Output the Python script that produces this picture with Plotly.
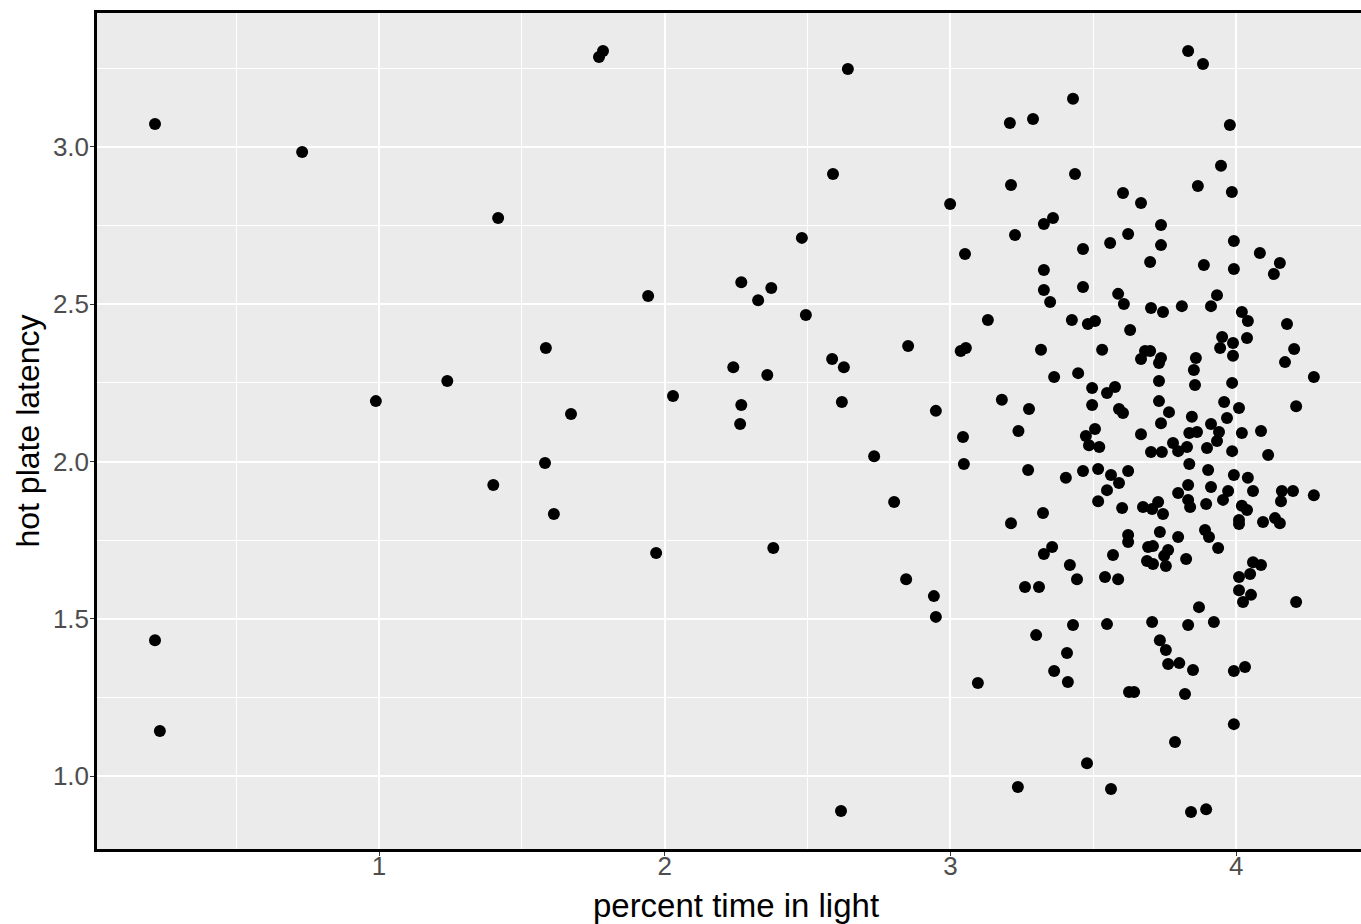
import plotly.graph_objects as go

percent_light = [
    0.216, 0.216, 0.233, 0.731, 0.989, 1.239, 1.417, 1.400, 1.584, 1.581,
    1.612, 1.672, 1.770, 1.784, 1.942, 1.970, 2.029, 2.240, 2.268, 2.268,
    2.264, 2.327, 2.373, 2.359, 2.380, 2.480, 2.494, 2.589, 2.586, 2.627,
    2.620, 2.641, 2.617, 2.733, 2.803, 2.852, 2.845, 2.942, 2.949, 2.949,
    3.429, 3.208, 3.289, 3.212, 3.436, 2.999, 3.604, 3.359, 3.327, 3.832,
    3.884, 3.978, 3.947, 3.866, 3.985, 3.667, 3.737, 3.226, 3.051, 3.327,
    3.464, 3.559, 3.622, 3.327, 3.349, 3.464, 3.587, 3.607, 3.131, 3.425,
    3.481, 3.506, 3.629, 3.036, 3.054, 3.317, 3.531, 3.363, 3.447, 3.496,
    3.576, 3.548, 3.180, 3.275, 3.496, 3.590, 3.604, 3.737, 3.699, 3.887,
    3.992, 3.992, 4.083, 4.153, 4.132, 3.702, 3.744, 3.810, 3.933, 3.912,
    4.020, 4.041, 4.178, 3.951, 3.989, 3.944, 4.038, 4.203, 4.171, 3.989,
    3.681, 3.699, 3.667, 3.737, 3.730, 3.859, 3.852, 3.856, 3.730, 3.986,
    3.730, 3.765, 3.958, 4.010, 4.210, 3.845, 3.968, 4.272, 3.044, 3.238,
    3.474, 3.506, 3.485, 3.521, 3.047, 3.272, 3.404, 3.464, 3.517, 3.562,
    3.590, 3.622, 3.548, 3.517, 3.601, 3.324, 3.212, 3.622, 3.622, 3.356,
    3.327, 3.569, 3.418, 3.443, 3.541, 3.587, 3.261, 3.310, 3.737, 3.912,
    3.667, 3.836, 3.863, 3.940, 3.933, 4.020, 4.087, 3.779, 3.828, 3.797,
    3.702, 3.740, 3.898, 3.986, 4.112, 3.836, 3.902, 3.992, 4.041, 3.832,
    3.912, 3.797, 3.972, 3.954, 4.059, 4.160, 4.199, 4.157, 4.272, 3.832,
    3.839, 3.895, 4.020, 4.038, 3.674, 3.706, 3.727, 3.744, 4.010, 4.010,
    4.094, 4.136, 4.153, 3.733, 3.797, 3.891, 3.905, 3.937, 3.692, 3.709,
    3.762, 3.748, 3.688, 3.709, 3.754, 3.825, 4.059, 4.087, 4.049, 4.010,
    4.010, 4.052, 4.024, 4.210, 3.870, 3.429, 3.548, 3.300, 3.408, 3.363,
    3.411, 3.096, 3.478, 3.236, 3.562, 3.706, 3.832, 3.922, 3.733, 3.754,
    3.762, 3.801, 3.849, 3.992, 4.031, 3.625, 3.643, 3.821, 3.992, 3.786,
    3.842, 3.895,
]

hot_plate_latency = [
    3.073, 1.432, 1.143, 2.984, 2.192, 2.256, 2.774, 1.925, 2.361, 1.995,
    1.833, 2.151, 3.286, 3.305, 2.526, 1.709, 2.208, 2.300, 2.570, 2.180,
    2.119, 2.513, 2.552, 2.275, 1.725, 2.711, 2.466, 2.914, 2.326, 2.300,
    2.189, 3.248, 0.889, 2.017, 1.871, 2.367, 1.626, 1.572, 1.506, 2.161,
    3.153, 3.076, 3.089, 2.879, 2.914, 2.819, 2.854, 2.774, 2.755, 3.305,
    3.264, 3.070, 2.940, 2.876, 2.857, 2.822, 2.752, 2.720, 2.660, 2.609,
    2.676, 2.695, 2.723, 2.545, 2.507, 2.555, 2.533, 2.501, 2.450, 2.450,
    2.437, 2.447, 2.418, 2.351, 2.361, 2.355, 2.355, 2.269, 2.281, 2.234,
    2.237, 2.218, 2.196, 2.167, 2.180, 2.167, 2.154, 2.688, 2.634, 2.625,
    2.701, 2.612, 2.663, 2.631, 2.596, 2.488, 2.475, 2.494, 2.529, 2.494,
    2.475, 2.447, 2.437, 2.396, 2.377, 2.361, 2.393, 2.358, 2.316, 2.336,
    2.351, 2.351, 2.326, 2.329, 2.313, 2.329, 2.291, 2.243, 2.256, 2.250,
    2.192, 2.157, 2.189, 2.170, 2.176, 2.142, 2.138, 2.269, 2.078, 2.097,
    2.081, 2.103, 2.052, 2.046, 1.992, 1.973, 1.948, 1.970, 1.976, 1.957,
    1.932, 1.970, 1.909, 1.874, 1.852, 1.836, 1.804, 1.766, 1.744, 1.728,
    1.706, 1.703, 1.671, 1.626, 1.633, 1.626, 1.601, 1.601, 2.122, 2.119,
    2.087, 2.091, 2.094, 2.094, 2.065, 2.091, 2.097, 2.059, 2.046, 2.033,
    2.030, 2.030, 2.043, 2.033, 2.021, 1.992, 1.973, 1.957, 1.948, 1.925,
    1.919, 1.900, 1.906, 1.878, 1.906, 1.906, 1.906, 1.874, 1.893, 1.878,
    1.855, 1.865, 1.859, 1.846, 1.855, 1.849, 1.871, 1.833, 1.814, 1.801,
    1.808, 1.820, 1.804, 1.776, 1.760, 1.782, 1.760, 1.725, 1.728, 1.731,
    1.719, 1.700, 1.684, 1.674, 1.668, 1.690, 1.680, 1.671, 1.642, 1.633,
    1.591, 1.576, 1.553, 1.553, 1.537, 1.480, 1.483, 1.448, 1.391, 1.334,
    1.299, 1.296, 1.041, 0.965, 0.959, 1.490, 1.480, 1.490, 1.432, 1.401,
    1.356, 1.359, 1.337, 1.334, 1.347, 1.267, 1.267, 1.261, 1.165, 1.108,
    0.886, 0.894,
]

x_ticks = [1, 2, 3, 4]
x_tick_labels = ["1", "2", "3", "4"]
y_ticks = [1.0, 1.5, 2.0, 2.5, 3.0]
y_tick_labels = ["1.0", "1.5", "2.0", "2.5", "3.0"]

fig = go.Figure(go.Scatter(
    x=percent_light, y=hot_plate_latency, mode="markers",
    marker=dict(color="black", size=12, line=dict(width=0)),
    showlegend=False, cliponaxis=False,
))

font_family = "Liberation Sans, Arial, sans-serif"
fig.update_layout(
    width=1375, height=924,
    margin=dict(l=97, r=0, t=13, b=75),
    paper_bgcolor="white", plot_bgcolor="#EBEBEB",
    font=dict(family=font_family, color="black"),
    xaxis=dict(
        range=[0.013, 4.486], tickvals=x_ticks, ticktext=x_tick_labels,
        showgrid=True, gridcolor="white", gridwidth=2,
        minor=dict(dtick=0.5, tick0=0.5, showgrid=True, gridcolor="white", gridwidth=1, ticks=""),
        zeroline=False, showline=True, linecolor="black", linewidth=2.5, mirror=True,
        ticks="outside", ticklen=4, tickcolor="#333333", tickwidth=1,
        ticklabelstandoff=-12,
        tickfont=dict(size=26, color="#4D4D4D", family=font_family),
        title=dict(text="percent time in light", font=dict(size=33, color="black"), standoff=16),
    ),
    yaxis=dict(
        range=[0.768, 3.426], tickvals=y_ticks, ticktext=y_tick_labels,
        showgrid=True, gridcolor="white", gridwidth=2,
        minor=dict(dtick=0.5, tick0=0.75, showgrid=True, gridcolor="white", gridwidth=1, ticks=""),
        zeroline=False, showline=True, linecolor="black", linewidth=2.5,
        ticks="outside", ticklen=4, tickcolor="#333333", tickwidth=1,
        ticklabelstandoff=-4,
        tickfont=dict(size=26, color="#4D4D4D", family=font_family),
        title=dict(text="hot plate latency", font=dict(size=32, color="black"), standoff=4),
    ),
)

fig.write_html(
    "out.html",
    config={"displayModeBar": False},
    post_script="document.body.style.margin='0';document.body.style.overflow='hidden';",
)
